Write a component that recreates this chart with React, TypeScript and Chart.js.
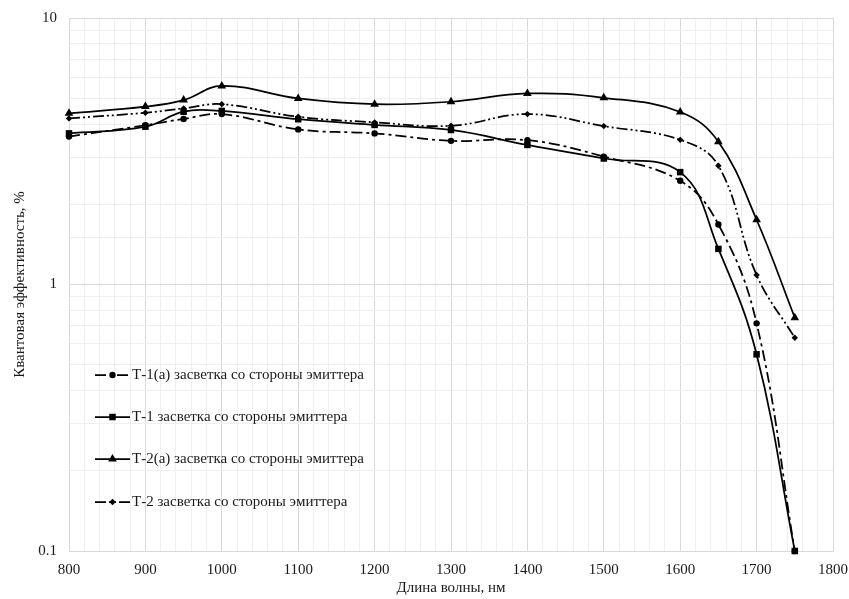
import React, { useEffect, useRef } from "react";
import { Chart, registerables } from "chart.js";

Chart.register(...registerables);

// ---- data ----
const wavelengths = [800, 900, 950, 1000, 1100, 1200, 1300, 1400, 1500, 1600, 1650, 1700, 1750];

const seriesLabels = [
  "Т-1(а) засветка со стороны эмиттера",
  "Т-1 засветка со стороны эмиттера",
  "Т-2(а) засветка со стороны эмиттера",
  "Т-2 засветка со стороны эмиттера",
];

const t1a = [3.59, 3.96, 4.18, 4.36, 3.82, 3.69, 3.46, 3.48, 3.02, 2.45, 1.68, 0.715, 0.1];
const t1 = [3.69, 3.91, 4.45, 4.48, 4.17, 3.97, 3.8, 3.34, 2.97, 2.64, 1.36, 0.547, 0.1];
const t2a = [4.39, 4.65, 4.92, 5.56, 4.99, 4.75, 4.85, 5.21, 5.02, 4.44, 3.43, 1.75, 0.751];
const t2 = [4.2, 4.41, 4.58, 4.75, 4.26, 4.06, 3.94, 4.36, 3.93, 3.49, 2.79, 1.085, 0.631];

const xTickLabels = [800, 900, 1000, 1100, 1200, 1300, 1400, 1500, 1600, 1700, 1800];
const yTickLabels = [0.1, 1, 10];

const xTitle = "Длина волны, нм";
const yTitle = "Квантовая эффективность, %";

// ---- styles ----
const FONT_FAMILY = "'Liberation Serif', 'Times New Roman', serif";
const TEXT_COLOR = "#1a1a1a";
const MAJOR_GRID = "#d9d9d9";
const MINOR_GRID = "#efefef";

const seriesStyles = [
  { dash: [11, 4, 3, 4], point: "circle", radius: 3.2 },
  { dash: [], point: "rect", radius: 4.6 },
  { dash: [], point: "triangle", radius: 5 },
  { dash: [11, 3, 2, 3, 2, 3], point: "rectRot", radius: 3.2 },
];

function drawMarker(ctx: CanvasRenderingContext2D, kind: string, x: number, y: number, r: number) {
  ctx.beginPath();
  if (kind === "circle") {
    ctx.arc(x, y, r, 0, Math.PI * 2);
  } else if (kind === "rect") {
    const s = r * Math.SQRT1_2;
    ctx.rect(x - s, y - s, 2 * s, 2 * s);
  } else if (kind === "triangle") {
    ctx.moveTo(x, y - r);
    ctx.lineTo(x + r * Math.sin(Math.PI / 3), y + r * 0.5);
    ctx.lineTo(x - r * Math.sin(Math.PI / 3), y + r * 0.5);
    ctx.closePath();
  } else {
    ctx.moveTo(x, y - r);
    ctx.lineTo(x + r, y);
    ctx.lineTo(x, y + r);
    ctx.lineTo(x - r, y);
    ctx.closePath();
  }
  ctx.fillStyle = "#000";
  ctx.fill();
}

const insideLegend = {
  id: "insideLegend",
  afterDraw(chart: any) {
    const { ctx, chartArea } = chart;
    const x0 = chartArea.left + 26;
    const x1 = chartArea.left + 61;
    const rowOffsets = [357, 399, 441, 484];
    ctx.save();
    chart.data.datasets.forEach((ds: any, i: number) => {
      const y = chartArea.top + rowOffsets[i];
      ctx.strokeStyle = "#000";
      ctx.lineWidth = 1.75;
      ctx.setLineDash(ds.borderDash || []);
      ctx.beginPath();
      ctx.moveTo(x0, y);
      ctx.lineTo(x1, y);
      ctx.stroke();
      ctx.setLineDash([]);
      drawMarker(ctx, seriesStyles[i].point, (x0 + x1) / 2, y, seriesStyles[i].radius);
      ctx.fillStyle = TEXT_COLOR;
      ctx.font = `15px ${FONT_FAMILY}`;
      ctx.textAlign = "left";
      ctx.textBaseline = "middle";
      ctx.fillText(ds.label, x1 + 2, y);
    });
    ctx.restore();
  },
};

function isDecade(v: number) {
  const l = Math.log10(v);
  return Math.abs(l - Math.round(l)) < 1e-6;
}

export default function App() {
  const ref = useRef<HTMLCanvasElement>(null);

  useEffect(() => {
    const canvas = ref.current;
    if (!canvas) return;
    const allSeries = [t1a, t1, t2a, t2];
    const datasets = allSeries.map((arr, i) => ({
      label: seriesLabels[i],
      data: wavelengths.map((x, j) => ({ x, y: arr[j] })),
      borderColor: "#000",
      backgroundColor: "#000",
      borderWidth: 1.75,
      borderDash: seriesStyles[i].dash,
      pointStyle: seriesStyles[i].point,
      pointRadius: seriesStyles[i].radius,
      pointBorderWidth: 0,
      pointBackgroundColor: "#000",
      tension: 0.4,
      fill: false,
      clip: 8,
    }));

    const font = { family: FONT_FAMILY, size: 15 };

    const chart = new Chart(canvas, {
      type: "line",
      data: { datasets } as any,
      plugins: [insideLegend],
      options: {
        animation: false,
        responsive: false,
        maintainAspectRatio: false,
        layout: { padding: { left: 0, right: 16, top: 18, bottom: 0 } },
        plugins: {
          legend: { display: false },
          tooltip: { enabled: false },
        },
        scales: {
          x: {
            type: "linear",
            min: 800,
            max: 1800,
            afterFit: (s: any) => {
              s.height = 48;
              s.paddingLeft = 0;
              s.paddingRight = 0;
            },
            ticks: {
              stepSize: 20,
              autoSkip: false,
              maxRotation: 0,
              minRotation: 0,
              padding: 10,
              font,
              color: TEXT_COLOR,
              callback: (v: any) => (xTickLabels.includes(Math.round(Number(v))) ? String(Math.round(Number(v))) : ""),
            },
            grid: {
              drawTicks: false,
              lineWidth: 1,
              color: (c: any) => (c.tick && Math.round(c.tick.value) % 100 === 0 ? MAJOR_GRID : MINOR_GRID),
            },
            border: { color: MAJOR_GRID },
            title: {
              display: true,
              text: xTitle,
              font,
              color: TEXT_COLOR,
              padding: { top: 0, bottom: 2 },
            },
          },
          y: {
            type: "logarithmic",
            min: 0.1,
            max: 10,
            afterFit: (s: any) => {
              s.width = 69;
              s.paddingTop = 0;
              s.paddingBottom = 0;
            },
            ticks: {
              autoSkip: false,
              padding: 12,
              font,
              color: TEXT_COLOR,
              callback: (v: any) => {
                const n = Number(v);
                const hit = yTickLabels.find((t) => Math.abs(t - n) < 1e-9);
                return hit !== undefined ? String(hit) : "";
              },
            },
            grid: {
              drawTicks: false,
              lineWidth: 1,
              color: (c: any) => (c.tick && isDecade(c.tick.value) ? MAJOR_GRID : MINOR_GRID),
            },
            border: { color: MAJOR_GRID },
            title: {
              display: true,
              text: yTitle,
              font,
              color: TEXT_COLOR,
              padding: { top: 11, bottom: 0 },
            },
          },
        },
      } as any,
    });
    return () => chart.destroy();
  }, []);

  return (
    <div style={{ position: "fixed", left: 0, top: 0, width: 849, height: 599, background: "#fff" }}>
      <canvas ref={ref} width={849} height={599} style={{ display: "block", width: 849, height: 599 }} />
    </div>
  );
}
